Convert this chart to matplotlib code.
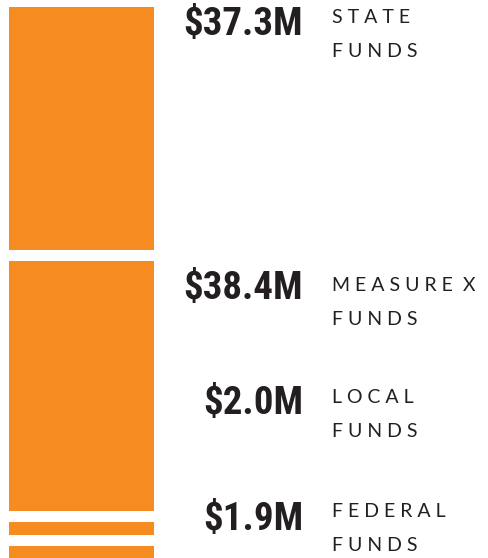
import matplotlib
matplotlib.use("Agg")
import matplotlib.pyplot as plt
import numpy as np

# funding sources, top to bottom ($ millions)
sources = ["STATE", "MEASURE X", "LOCAL", "FEDERAL"]
amounts = [37.3, 38.4, 2.0, 1.9]
value_labels = ["$37.3M", "$38.4M", "$2.0M", "$1.9M"]

ORANGE = "#F68B22"
INK = "#231F20"
GAP = 1.7  # white gap between segments, in $M

VALUE_FONT = ["Roboto Condensed", "Noto Sans", "DejaVu Sans"]
LABEL_FONT = ["Lato", "DejaVu Sans"]

W, H = 489, 558


def spaced(word):
    # fake letter spacing
    return " ".join(word).replace("   ", "  ")


fig = plt.figure(figsize=(W / 100, H / 100), dpi=100)

# axes holds the stacked bar only
ax = fig.add_axes([9 / W, 0, 145 / W, (H - 7) / H])
bottoms = np.cumsum([0] + amounts[:-1]) + GAP * np.arange(len(amounts))
ax.bar([0.5] * len(amounts), amounts, bottom=bottoms, width=1.0,
       color=ORANGE, linewidth=0)
ax.set_xlim(0, 1)
ax.set_ylim(sum(amounts) + GAP * (len(amounts) - 1), 0)
ax.axis("off")

# label baselines in pixels from the top
value_base = [35, 299, 414, 530]
label_base = [23, 291, 403, 517]

for name, val, vb, lb in zip(sources, value_labels, value_base, label_base):
    fig.text(303 / W, 1 - vb / H, val, ha="right", va="baseline",
             family=VALUE_FONT, fontweight="bold", fontstretch="condensed",
             fontsize=28, color=INK)
    fig.text(332 / W, 1 - lb / H, spaced(name), ha="left", va="baseline",
             family=LABEL_FONT, fontsize=14, color=INK)
    fig.text(332 / W, 1 - (lb + 34) / H, spaced("FUNDS"), ha="left",
             va="baseline", family=LABEL_FONT, fontsize=14, color=INK)

fig.savefig("out.png", dpi=100)
